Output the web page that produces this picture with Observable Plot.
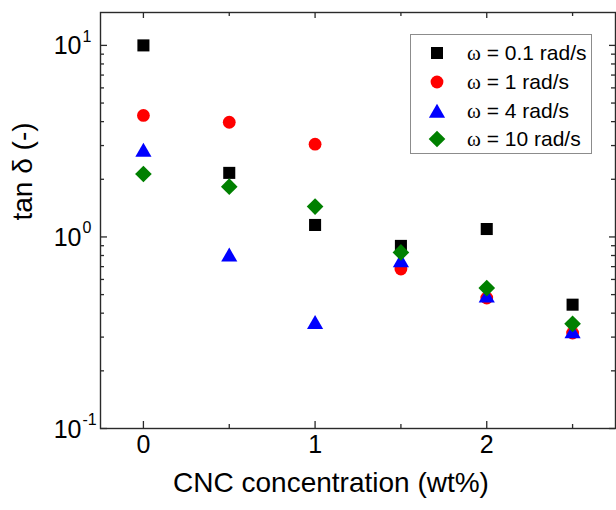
<!DOCTYPE html>
<html><head><meta charset="utf-8">
<script src="https://cdn.jsdelivr.net/npm/d3@7"></script>
<script src="https://cdn.jsdelivr.net/npm/@observablehq/plot@0.6"></script>
<style>
body{margin:0;background:#fff;}
#wrap{position:relative;width:616px;height:510px;}
#legend{position:absolute;left:410px;top:34px;width:180px;height:118px;border:1.5px solid #8c8c8c;background:#fff;font-family:"Liberation Sans",Arial,sans-serif;font-size:21px;color:#000;}
.row{position:absolute;left:0;height:28px;line-height:28px;white-space:nowrap;}
.row svg{position:absolute;left:13px;top:4px;}
.row span.t{position:absolute;left:56px;top:0;}
.w{font-family:"Liberation Serif","Times New Roman",serif;}
</style></head><body><div id="wrap"></div>
<script>
// ---- data ----
const concentration = [0, 0.5, 1, 1.5, 2, 2.5];
const tanDelta_w01 = [10.0, 2.16, 1.155, 0.898, 1.10, 0.443];
const tanDelta_w1  = [4.31, 3.97, 3.05, 0.68, 0.48, 0.315];
const tanDelta_w4  = [2.84, 0.806, 0.358, 0.753, 0.493, 0.321];
const tanDelta_w10 = [2.13, 1.83, 1.44, 0.83, 0.541, 0.352];
const seriesOmega = ["0.1", "1", "4", "10"];
const xMajorTicks = [0, 1, 2];
const xMinorTicks = [0.5, 1.5, 2.5];
const yDecadeTicks = [0.1, 1, 10];
const yMinorTicks = [0.2,0.3,0.4,0.5,0.6,0.7,0.8,0.9,2,3,4,5,6,7,8,9];
const xTitle = "CNC concentration (wt%)";
const yTitle = "tan δ (-)";

// ---- styles ----
const FONT = '"Liberation Sans", Arial, sans-serif';
const series = [
  {vals: tanDelta_w01, color: "#000000", symbol: d3.symbolSquare, r: 6.8, dy: 0},
  {vals: tanDelta_w1,  color: "#ff0000", symbol: d3.symbolCircle, r: 6.4, dy: 0},
  {vals: tanDelta_w4,  color: "#0000ff", symbol: d3.symbolTriangle, r: 6.0, dy: 2},
  {vals: tanDelta_w10, color: "#008000", symbol: d3.symbolDiamond2, r: 7.5, dy: 0}
];

const W = 616, H = 510, mL = 100, mR = 1, mT = 12, mB = 82;
const innerW = W - mL - mR, innerH = H - mT - mB;
const axisColor = "#2a2a2a";

const dotMarks = series.map(s => Plot.dot(
  concentration.map((c, i) => ({c, v: s.vals[i]})),
  {x: "c", y: "v", symbol: () => s.symbol, r: s.r, fill: s.color, stroke: "none", dy: s.dy}
));

const chart = Plot.plot({
  width: W, height: H,
  marginLeft: mL, marginRight: mR, marginTop: mT, marginBottom: mB,
  style: {fontFamily: FONT, background: "#fff", color: "#000"},
  x: {domain: [-0.25, 2.75], axis: null},
  y: {type: "log", domain: [0.1, 14.85], axis: null},
  symbol: {type: "identity"},
  marks: [
    // ticks (inward) on all four sides
    Plot.tickY(yDecadeTicks, {y: d => d, insetRight: innerW - 7, stroke: axisColor, strokeWidth: 1.3}),
    Plot.tickY(yMinorTicks, {y: d => d, insetRight: innerW - 4, stroke: axisColor, strokeWidth: 1.3}),
    Plot.tickY(yDecadeTicks, {y: d => d, insetLeft: innerW - 6, stroke: axisColor, strokeWidth: 1.3}),
    Plot.tickY(yMinorTicks, {y: d => d, insetLeft: innerW - 4, stroke: axisColor, strokeWidth: 1.3}),
    Plot.tickX(xMajorTicks, {x: d => d, insetTop: innerH - 7, stroke: axisColor, strokeWidth: 1.3}),
    Plot.tickX(xMinorTicks, {x: d => d, insetTop: innerH - 4, stroke: axisColor, strokeWidth: 1.3}),
    Plot.tickX(xMajorTicks, {x: d => d, insetBottom: innerH - 6, stroke: axisColor, strokeWidth: 1.3}),
    Plot.tickX(xMinorTicks, {x: d => d, insetBottom: innerH - 4, stroke: axisColor, strokeWidth: 1.3}),
    Plot.frame({stroke: axisColor, strokeWidth: 1.4}),
    // tick labels
    Plot.text(xMajorTicks, {x: d => d, frameAnchor: "bottom", dy: 24, text: d => String(d), fontSize: 25, fill: "#000"}),
    Plot.text(yDecadeTicks, {y: d => d, frameAnchor: "left", dx: -19, dy: 1, text: () => "10", textAnchor: "end", fontSize: 25, fill: "#000"}),
    Plot.text(yDecadeTicks, {y: d => d, frameAnchor: "left", dx: -18, dy: -9, text: d => String(Math.round(Math.log10(d))), textAnchor: "start", fontSize: 16, fill: "#000"}),
    // axis titles
    Plot.text([xTitle], {frameAnchor: "bottom", dx: -27, dy: 63, text: d => d, fontSize: 28, fill: "#000"}),
    Plot.text([yTitle], {frameAnchor: "left", dx: -77, rotate: -90, text: d => d, fontSize: 28, fill: "#000"}),
    ...dotMarks
  ]
});

const wrap = document.getElementById("wrap");
wrap.appendChild(chart);

// legend
const legend = document.createElement("div");
legend.id = "legend";
const rowTops = [4, 33, 62, 90];
series.forEach((s, i) => {
  const row = document.createElement("div");
  row.className = "row";
  row.style.top = rowTops[i] + "px";
  const path = d3.symbol(s.symbol, Math.PI * s.r * s.r)();
  row.innerHTML = `<svg width="26" height="20" viewBox="-13 -10 26 20"><path d="${path}" fill="${s.color}" transform="translate(0,${s.dy})"/></svg>` +
    `<span class="t"><span class="w">ω</span> = ${seriesOmega[i]} rad/s</span>`;
  legend.appendChild(row);
});
wrap.appendChild(legend);
</script>
</body></html>
